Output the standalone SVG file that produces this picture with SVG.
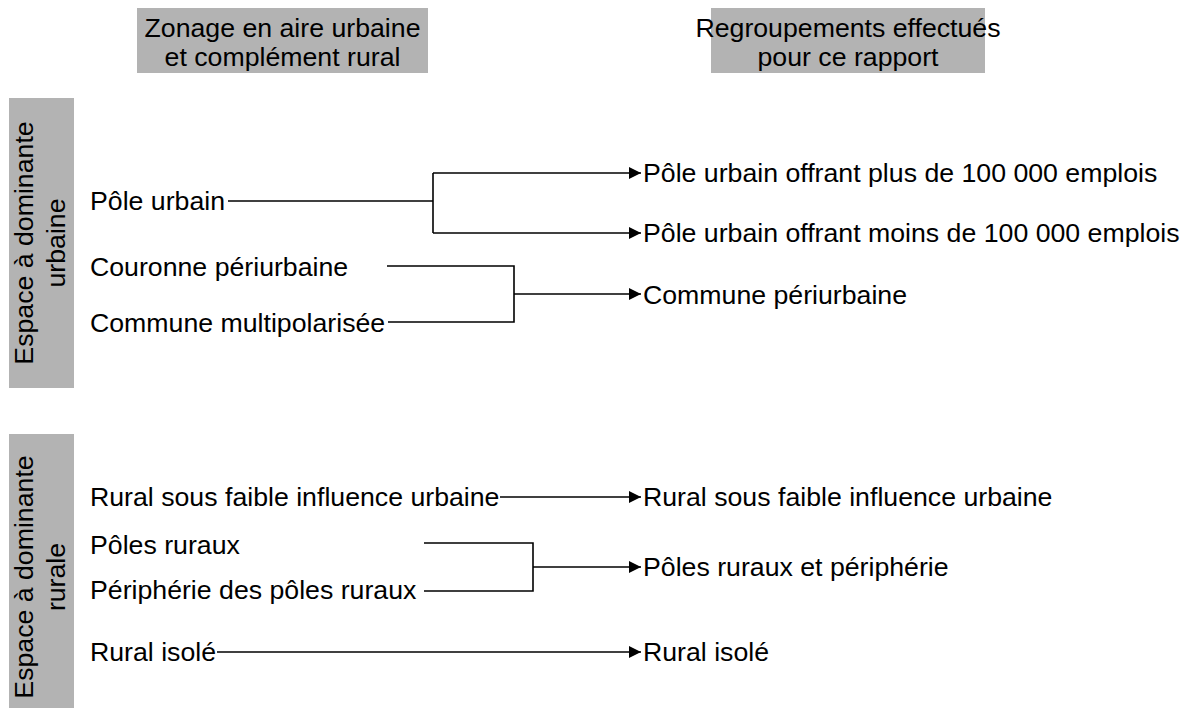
<svg xmlns="http://www.w3.org/2000/svg" width="1200" height="716" viewBox="0 0 1200 716">
<style>
text{font-family:"Liberation Sans",Arial,sans-serif;font-size:26.7px;fill:#000}
.hdr{fill:#b3b3b3}
.c{text-anchor:middle}
.ln{fill:none;stroke:#000;stroke-width:1.6}
</style>
<defs>
<marker id="ah" markerUnits="userSpaceOnUse" markerWidth="14" markerHeight="12" refX="12" refY="6" orient="auto">
<path d="M0,0 L12,6 L0,12 Z" fill="#000"/>
</marker>
</defs>
<rect width="1200" height="716" fill="#fff"/>
<g id="header-zonage">
<rect class="hdr" x="137" y="8" width="291" height="65"/>
<text class="c" x="282.5" y="36.5">Zonage en aire urbaine</text>
<text class="c" x="282.5" y="66">et complément rural</text>
</g>
<g id="header-regroupements">
<rect class="hdr" x="711" y="8" width="274" height="65"/>
<text class="c" x="848" y="36.5">Regroupements effectués</text>
<text class="c" x="848" y="66">pour ce rapport</text>
</g>
<g id="band-urbain">
<rect class="hdr" x="9" y="98" width="65" height="290"/>
<text class="c" transform="translate(33,243) rotate(-90)">Espace à dominante</text>
<text class="c" transform="translate(65,243) rotate(-90)">urbaine</text>
</g>
<g id="band-rural">
<rect class="hdr" x="9" y="434" width="65" height="274"/>
<text class="c" transform="translate(33,577) rotate(-90)">Espace à dominante</text>
<text class="c" transform="translate(65,577) rotate(-90)">rurale</text>
</g>
<g id="src-pole-urbain"><text x="90" y="210">Pôle urbain</text></g>
<g id="src-couronne"><text x="90" y="276">Couronne périurbaine</text></g>
<g id="src-multipol"><text x="90" y="332">Commune multipolarisée</text></g>
<g id="src-rural-faible"><text x="90" y="506">Rural sous faible influence urbaine</text></g>
<g id="src-poles-ruraux"><text x="90" y="554">Pôles ruraux</text></g>
<g id="src-peripherie"><text x="90" y="599">Périphérie des pôles ruraux</text></g>
<g id="src-rural-isole"><text x="90" y="661">Rural isolé</text></g>
<g id="dst-plus"><text x="643" y="182">Pôle urbain offrant plus de 100 000 emplois</text></g>
<g id="dst-moins"><text x="643" y="242">Pôle urbain offrant moins de 100 000 emplois</text></g>
<g id="dst-periurbaine"><text x="643" y="304">Commune périurbaine</text></g>
<g id="dst-rural-faible"><text x="643" y="506">Rural sous faible influence urbaine</text></g>
<g id="dst-poles"><text x="643" y="576">Pôles ruraux et périphérie</text></g>
<g id="dst-rural-isole"><text x="643" y="661">Rural isolé</text></g>
<g id="connectors">
<path class="ln" d="M228,201 H433"/>
<path class="ln" d="M433,173 V233"/>
<path class="ln" d="M433,173 H641" marker-end="url(#ah)"/>
<path class="ln" d="M433,233 H641" marker-end="url(#ah)"/>
<path class="ln" d="M387,266 H514 V322 H388"/>
<path class="ln" d="M514,294 H641" marker-end="url(#ah)"/>
<path class="ln" d="M500,497 H641" marker-end="url(#ah)"/>
<path class="ln" d="M424,543 H533 V591 H424"/>
<path class="ln" d="M533,567 H641" marker-end="url(#ah)"/>
<path class="ln" d="M217,652 H641" marker-end="url(#ah)"/>
</g>
</svg>
